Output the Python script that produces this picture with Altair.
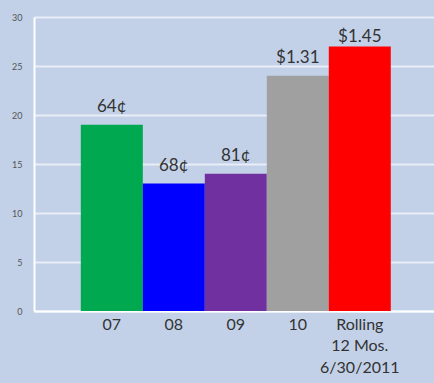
import altair as alt
import pandas as pd

categories = ["07", "08", "09", "10", "Rolling|12 Mos.|6/30/2011"]
values = [19, 13, 14, 24, 27]
value_labels = ["64¢", "68¢", "81¢", "$1.31", "$1.45"]
colors = ["#00a84f", "#0000ff", "#7030a0", "#a0a0a0", "#ff0000"]

df = pd.DataFrame({"cat": categories, "val": values, "lab": value_labels, "col": colors})

x = alt.X("cat:N", sort=categories, title=None,
          scale=alt.Scale(paddingInner=0, paddingOuter=0.726, align=0.52),
          axis=alt.Axis(labelAngle=0, labelExpr="split(datum.label, '|')",
                        labelFont="Lato", labelFontSize=16, labelColor="#333333",
                        labelPadding=5, labelLineHeight=21.5, ticks=False,
                        domainColor="#ffffff", domainWidth=2, grid=False))
y = alt.Y("val:Q", title=None,
          scale=alt.Scale(domain=[0, 30]),
          axis=alt.Axis(values=[0, 5, 10, 15, 20, 25, 30], labelFont="Lato",
                        labelFontSize=9, labelColor="#555555", labelPadding=12,
                        ticks=False, domainColor="#ffffff", domainWidth=2,
                        gridColor="#eef2fa", gridWidth=2, gridOpacity=0.85))

bars = alt.Chart(df).mark_bar().encode(
    x=x, y=y, color=alt.Color("col:N", scale=None)
)
enc = dict(x=alt.X("cat:N", sort=categories), y="val:Q", text="lab:N")
text_main = alt.Chart(df).transform_filter(
    alt.datum.lab != "$1.45"
).mark_text(dy=-18, font="Lato", fontSize=17, color="#333333").encode(**enc)
text_last = alt.Chart(df).transform_filter(
    alt.datum.lab == "$1.45"
).mark_text(dy=-9, font="Lato", fontSize=17, color="#333333").encode(**enc)

chart = (bars + text_main + text_last).properties(
    width=400, height=294, background="#c2d1e8",
    padding={"left": 34, "top": 17, "right": 0, "bottom": 72},
    autosize=alt.AutoSizeParams(type="none")
).configure_view(stroke=None)

chart.save("out.html", embed_options={"renderer": "svg", "actions": False})
